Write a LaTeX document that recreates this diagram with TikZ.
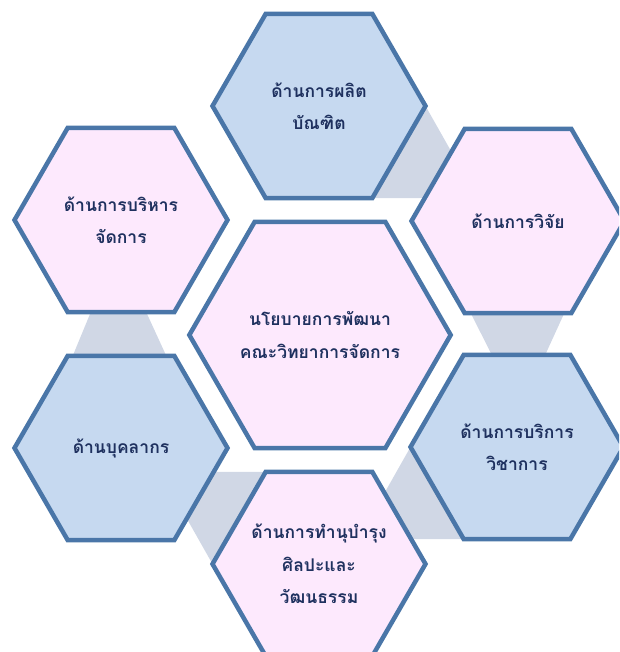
\documentclass[tikz,border=0pt]{standalone}
\usepackage{fontspec}
\newfontfamily\thaifont[Script=Thai]{Loma}
\usetikzlibrary{shapes.geometric,calc,backgrounds}
\definecolor{hexline}{RGB}{74,118,168}
\definecolor{bluefill}{RGB}{198,217,240}
\definecolor{pinkfill}{RGB}{253,233,253}
\definecolor{bandgrey}{RGB}{208,215,229}
\definecolor{textcol}{RGB}{31,49,95}

\begin{document}
\begin{tikzpicture}[x=1pt,y=-1pt,
  hextext/.style={text=textcol,align=center,inner sep=0pt,
    font=\thaifont\bfseries\fontsize{17.5}{32.5}\selectfont},
  hexa/.style={regular polygon,regular polygon sides=6,draw=hexline,line width=4.5pt,
    minimum size=213pt,inner sep=0pt,outer sep=0pt,hextext},
  bluehex/.style={hexa,fill=bluefill},
  pinkhex/.style={hexa,fill=pinkfill},
  band/.style={fill=bandgrey}]
  \useasboundingbox (0,0) rectangle (619,652);
  \clip (0,0) rectangle (619,652);
  \node[bluehex] (top) at (319,106) {ด้านการผลิต\\บัณฑิต};
  \node[pinkhex] (tl) at (121,220) {ด้านการบริหาร\\จัดการ};
  \node[pinkhex] (tr) at (518,221) {ด้านการวิจัย};
  \node[pinkhex,minimum size=261pt] (mid) at (320,335) {นโยบายการพัฒนา\\คณะวิทยาการจัดการ};
  \node[bluehex] (bl) at (121,448) {ด้านบุคลากร};
  \node[bluehex] (br) at (517,447) {ด้านการบริการ\\วิชาการ};
  \node[pinkhex,label={[hextext]center:ด้านการทำนุบำรุง\\ศิลปะและ\\วัฒนธรรม}] (bot) at (319,564) {};
  \begin{scope}[on background layer]
    \fill[band] (top.0) -- (top.-60) -- (top.-60 -| tr.center) -- ($(top.0)+(30,53)$) -- cycle;
    \fill[band] ($(tr.-120)+(6,0)$) -- ($(tr.-60)+(-7,0)$) -- ($(br.60)+(-25,0)$) -- ($(br.120)+(28,0)$) -- cycle;
    \fill[band] (br.180) -- (br.-120) -- (br.-120 -| bot.center) -- ($(br.180)+(-30,53)$) -- cycle;
    \fill[band] (bot.180) -- (bot.120) -- (bot.120 -| bl.center) -- ($(bot.180)+(-30,-53)$) -- cycle;
    \fill[band] ($(tl.-120)+(23,0)$) -- ($(tl.-60)+(-28,0)$) -- ($(bl.60)+(-8,0)$) -- ($(bl.120)+(5,0)$) -- cycle;
  \end{scope}
\end{tikzpicture}
\end{document}
